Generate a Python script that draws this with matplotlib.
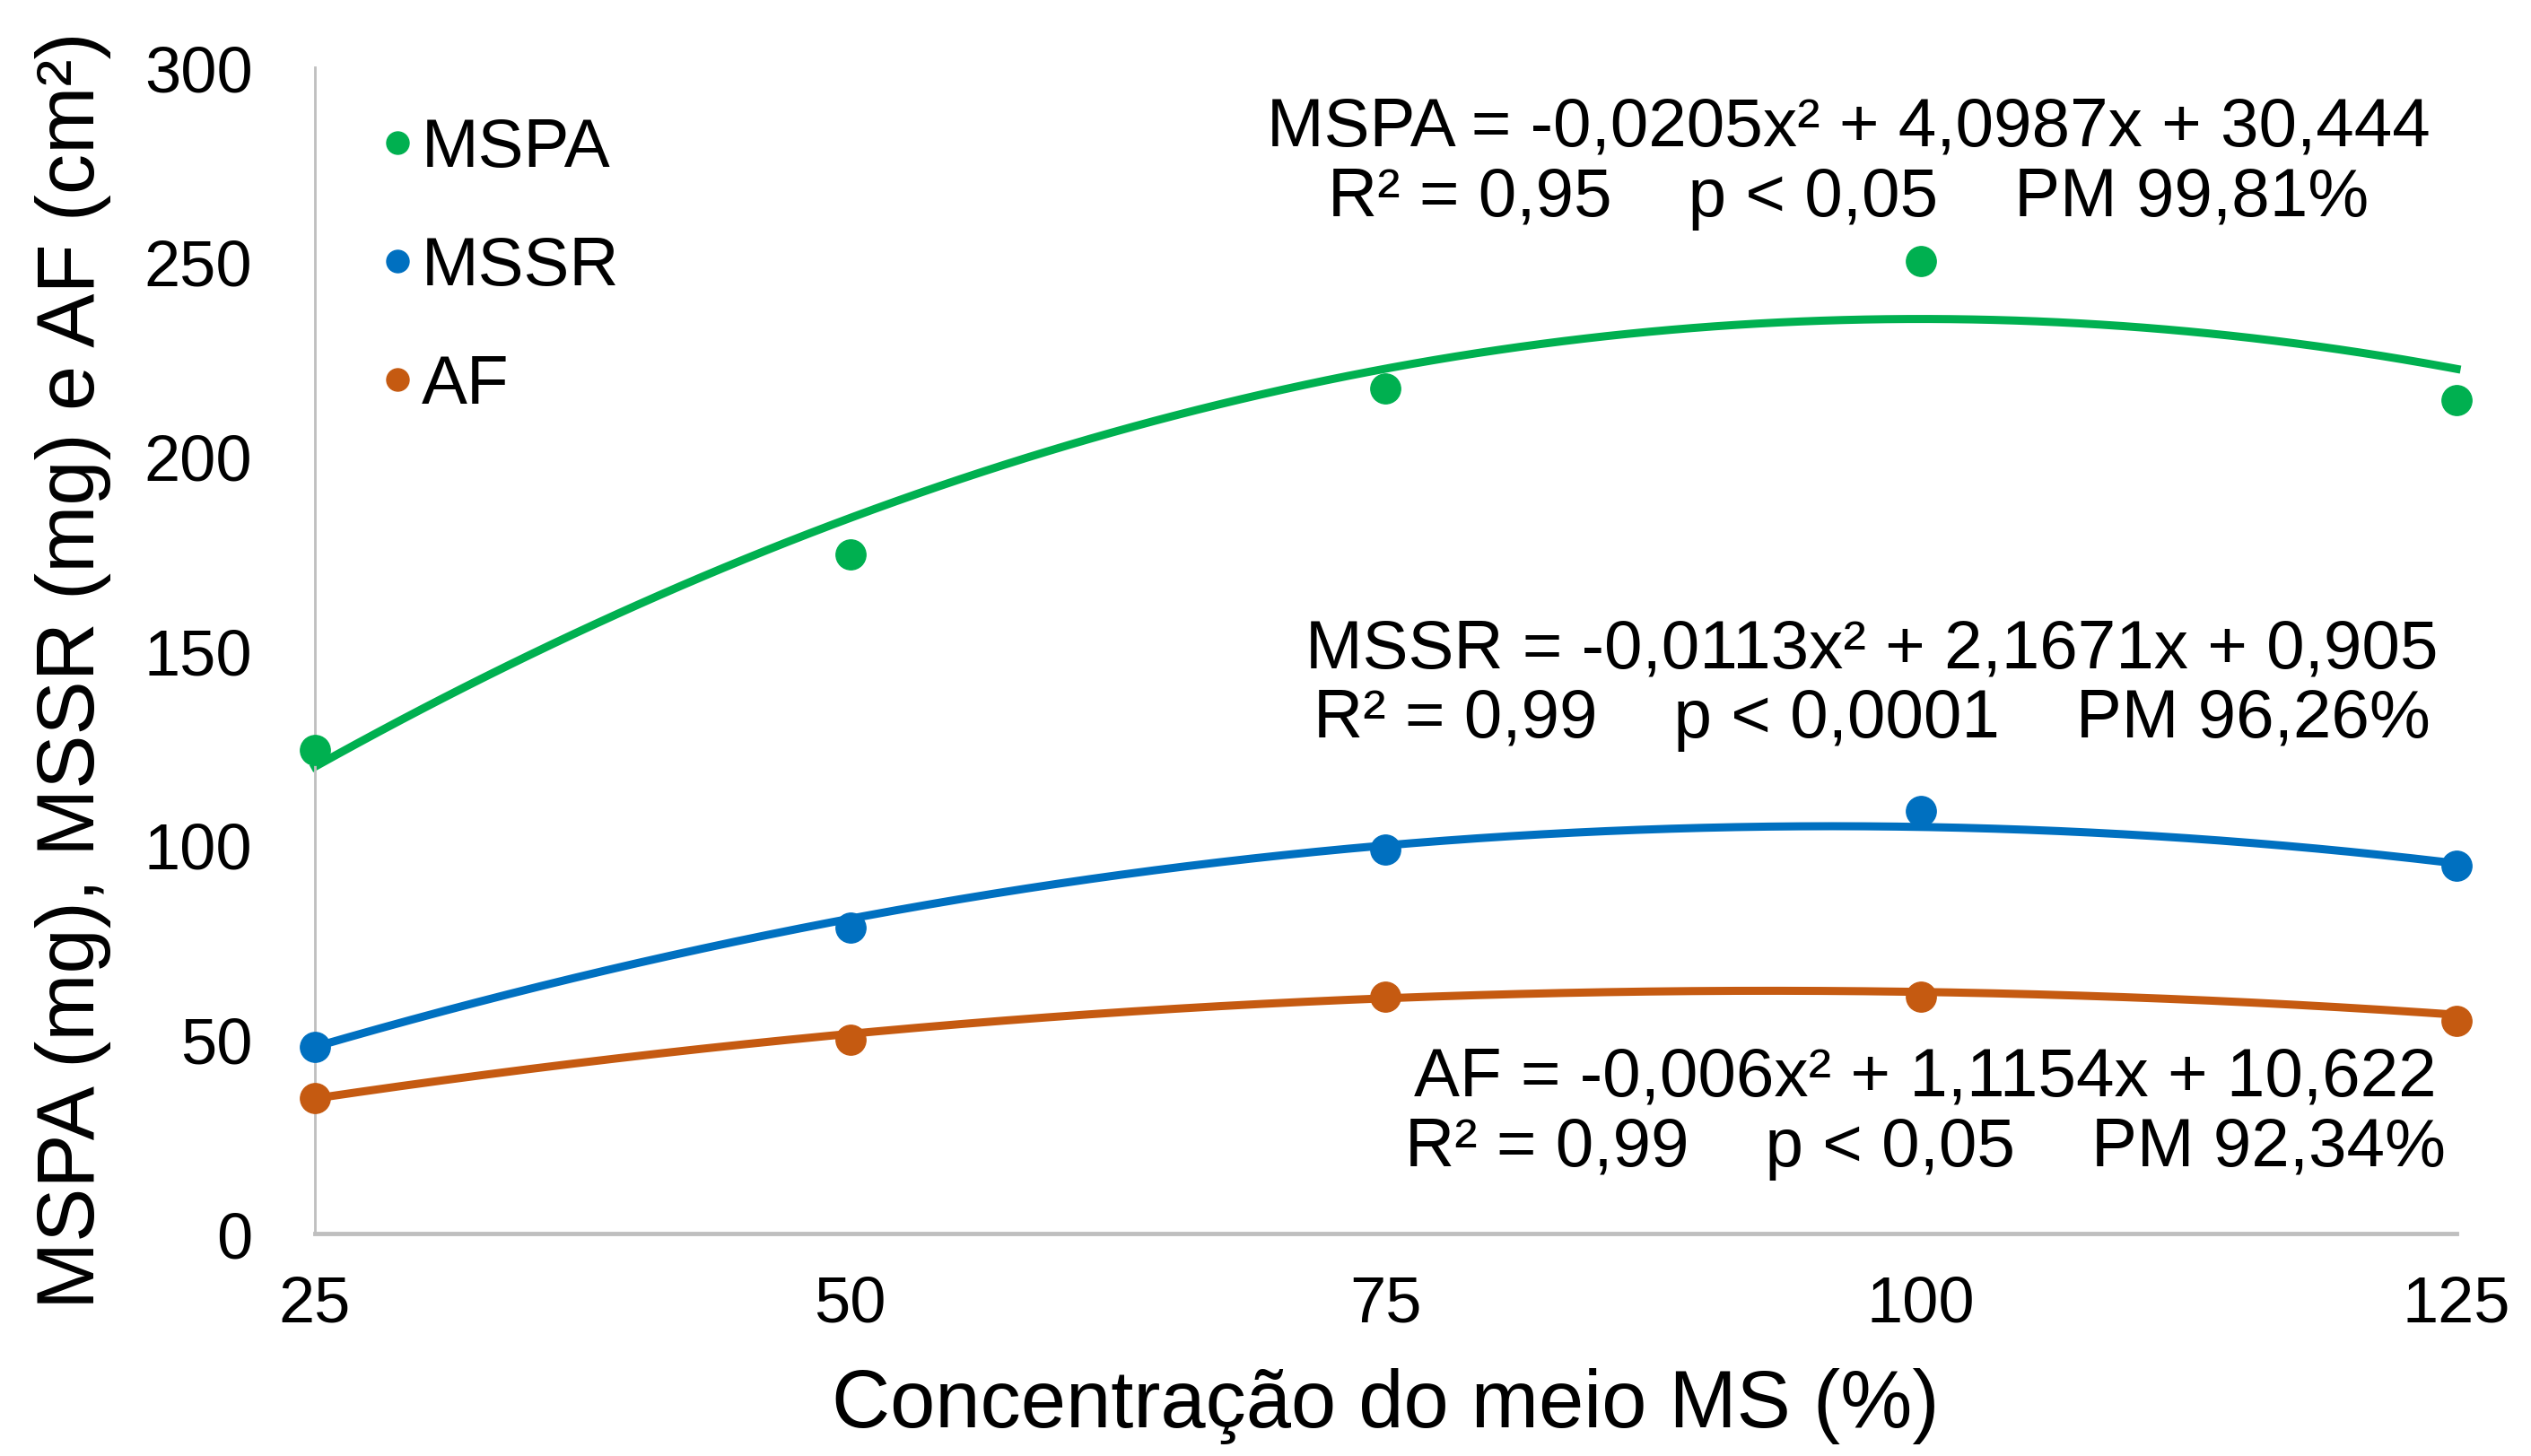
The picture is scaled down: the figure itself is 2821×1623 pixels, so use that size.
import numpy as np
import matplotlib
matplotlib.use("Agg")
import matplotlib.pyplot as plt
from matplotlib.lines import Line2D

plt.rcParams['font.family'] = ['Liberation Sans', 'DejaVu Sans']

# data
conc = [25, 50, 75, 100, 125]
mspa = [124.5, 174.7, 217.4, 250.2, 214.5]
mssr = [48.1, 78.8, 98.7, 108.7, 94.6]
af = [34.9, 49.8, 61.0, 61.0, 54.8]

# trendline coefficients (a, b, c) as printed in the chart
coef_mspa = [-0.0205, 4.0987, 30.444]
coef_mssr = [-0.0113, 2.1671, 0.905]
coef_af = [-0.006, 1.1154, 10.622]

eq_mspa = "MSPA = -0,0205x² + 4,0987x + 30,444\nR² = 0,95    p < 0,05    PM 99,81%"
eq_mssr = "MSSR = -0,0113x² + 2,1671x + 0,905\nR² = 0,99    p < 0,0001    PM 96,26%"
eq_af = "AF = -0,006x² + 1,1154x + 10,622\nR² = 0,99    p < 0,05    PM 92,34%"

names = ['MSPA', 'MSSR', 'AF']
colors = ['#00B050', '#0070C0', '#C55A11']

fig = plt.figure(figsize=(28.21, 16.24), dpi=100)
ax = fig.add_axes([0.1244, 0.1527, 0.8462, 0.8003])

xs = np.linspace(25, 125, 200)
for vals, coef, col in zip([mspa, mssr, af], [coef_mspa, coef_mssr, coef_af], colors):
    ax.plot(xs, np.polyval(coef, xs), color=col, lw=6.5, clip_on=False, zorder=2)
    ax.plot(conc, vals, 'o', color=col, ms=24, clip_on=False, zorder=3)

# equations
ax.text(96.6, 275.5, eq_mspa, ha='center', va='center', fontsize=55, linespacing=1.13)
ax.text(97.7, 141.3, eq_mssr, ha='center', va='center', fontsize=55, linespacing=1.13)
ax.text(100.2, 31.1, eq_af, ha='center', va='center', fontsize=55, linespacing=1.13)

ax.set_xlim(25, 125)
ax.set_ylim(0, 300)
ax.set_xticks(conc)
ax.set_yticks(range(0, 301, 50))
ax.tick_params(axis='both', length=0, labelsize=52)
ax.tick_params(axis='x', pad=33)
ax.tick_params(axis='y', pad=50)

for s in ['top', 'right']:
    ax.spines[s].set_visible(False)
ax.spines['left'].set_color('#BFBFBF')
ax.spines['left'].set_linewidth(2)
ax.spines['bottom'].set_color('#BFBFBF')
ax.spines['bottom'].set_linewidth(3.5)

ax.set_xlabel('Concentração do meio MS (%)', fontsize=65)
ax.set_ylabel('MSPA (mg), MSSR (mg) e AF (cm²)', fontsize=65)
ax.xaxis.set_label_coords(0.5, -0.115)
ax.yaxis.set_label_coords(-0.095, 0.484)

handles = [Line2D([], [], ls='none', marker='o', color=c, ms=18) for c in colors]
ax.legend(handles, names, loc='upper left', bbox_to_anchor=(0.013, 0.993), frameon=False,
          fontsize=55, handlelength=0.4, handletextpad=0.15, labelspacing=0.8,
          borderaxespad=0.2)

fig.savefig('out.png', dpi=100)
